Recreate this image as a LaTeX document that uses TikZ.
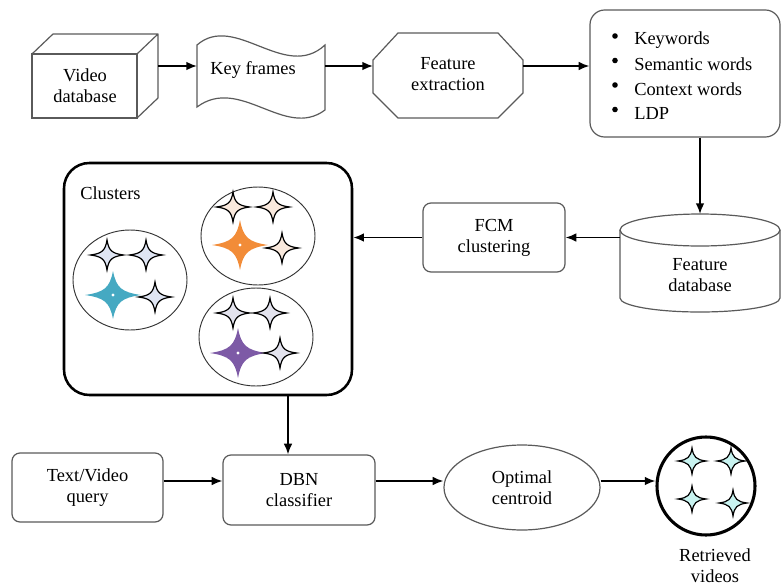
\documentclass[tikz,border=0pt]{standalone}
\usepackage{fontspec}
\setmainfont{Liberation Serif}
\usetikzlibrary{arrows.meta,shapes.geometric}
\definecolor{lnc}{HTML}{5A5A5A}
\definecolor{cyanbig}{HTML}{45A9C2}
\definecolor{orangebig}{HTML}{F28C38}
\definecolor{purplebig}{HTML}{7D5AA6}
\definecolor{bluesmall}{HTML}{DFE5F3}
\definecolor{peachsmall}{HTML}{F9E9DD}
\definecolor{graysmall}{HTML}{E3E3EE}
\definecolor{cyansmall}{HTML}{C8F3F0}
% x y rx ry style
\newcommand\sparkle[5]{%
  \begin{scope}[shift={(#1,#2)}]
  \path[#5] (#3,0) .. controls (0.3*#3,0.1*#4) and (0.1*#3,0.3*#4) .. (0,#4)
    .. controls (-0.1*#3,0.3*#4) and (-0.3*#3,0.1*#4) .. (-#3,0)
    .. controls (-0.3*#3,-0.1*#4) and (-0.1*#3,-0.3*#4) .. (0,-#4)
    .. controls (0.1*#3,-0.3*#4) and (0.3*#3,-0.1*#4) .. cycle;
  \end{scope}}
\newcommand\bigsparkle[5]{%
  \begin{scope}[shift={(#1,#2)}]
  \path[#5] (#3,0) .. controls (0.3*#3,0.12*#4) and (0.12*#3,0.3*#4) .. (0,#4)
    .. controls (-0.12*#3,0.3*#4) and (-0.3*#3,0.12*#4) .. (-#3,0)
    .. controls (-0.3*#3,-0.12*#4) and (-0.12*#3,-0.3*#4) .. (0,-#4)
    .. controls (0.12*#3,-0.3*#4) and (0.3*#3,-0.12*#4) .. cycle;
  \fill[white] (0,0) circle (1.6);
  \end{scope}}
\begin{document}
\begin{tikzpicture}[x=0.75pt,y=-0.75pt,
  font=\fontsize{13.8pt}{15.8pt}\selectfont,
  ln/.style={draw=lnc, line width=0.9pt},
  box/.style={ln, rounded corners=6pt, fill=white, align=center, inner sep=0pt},
  ghost/.style={draw=none, inner sep=0pt, outer sep=0pt},
  txt/.style={align=center, inner sep=0pt},
  arr/.style={draw=black, line width=1.3pt, -{Latex[length=8pt,width=6.5pt]}},
  smallstar/.style={draw=black, line width=0.9pt, fill=#1},
  bigstar/.style={fill=#1}]
\useasboundingbox (0,0) rectangle (782,586);

% ---------- row 1 ----------
% Video database (cube)
\node[ghost, minimum width=94.5pt, minimum height=63pt] (vd) at (95,76) {};
\draw[ln, fill=white] (32,54) rectangle (137,118);
\draw[ln, line join=round] (32,54) -- (53,34) -- (158,34) -- (137,54) (158,34) -- (158,98) -- (137,118);
\node[txt] (vdt) at (85,86) {Video\\database};

% Key frames (wavy document)
\node[ghost, minimum width=96pt, minimum height=63.75pt] (kfs) at (261,76) {};
\draw[ln] (197,45) .. controls (235,12) and (285,82) .. (325,45) -- (325,110)
  .. controls (285,140) and (240,75) .. (197,107) -- cycle;
\node[txt] (kft) at (253,70) {Key frames};

% Feature extraction (octagon)
\node[ghost, minimum width=112.5pt, minimum height=63.75pt] (fe) at (448,75.5) {};
\draw[ln] (398,33) -- (498,33) -- (523,60) -- (523,93) -- (498,118) -- (398,118) -- (373,93) -- (373,60) -- cycle;
\node[txt] (fet) at (448,74) {Feature\\extraction};

% Feature list
\node[box, rounded corners=11pt, minimum width=142.5pt, minimum height=95.25pt] (feats) at (685,73.5) {};
\foreach \yy/\tt [count=\i] in {40/Keywords, 64.5/Semantic words, 89/Context words, 113.5/LDP}{
  \fill (615,\yy-4) circle (2.8);
  \node[anchor=west, inner sep=0pt] (item\i) at (634,\yy) {\tt};
}

\coordinate (r1) at (0,66);
\draw[arr] (vd.east |- r1) -- (kfs.west |- r1);
\draw[arr] (kfs.east |- r1) -- (fe.west |- r1);
\draw[arr] (fe.east |- r1) -- (feats.west |- r1);

% ---------- row 2 ----------
% Feature database (cylinder)
\node[ghost, minimum width=120pt, minimum height=73.5pt] (fdb) at (700,263) {};
\draw[ln, fill=white] (620,230) -- (620,298) arc[start angle=180, end angle=0, x radius=80, y radius=14] -- (780,230);
\draw[ln, fill=white] (700,230) ellipse [x radius=80, y radius=16];
\node[txt] (fdbt) at (700,275) {Feature\\database};

\draw[arr] (feats.south -| fdb.north) -- (fdb.north);

% FCM clustering
\node[box, minimum width=106.5pt, minimum height=51.75pt] (fcm) at (494,237.5) {FCM\\clustering};
\draw[arr] (fcm.east -| fdb.west) -- (fcm.east);

% Clusters box
\node[draw=black, line width=1.9pt, rounded corners=19pt, minimum width=216pt, minimum height=174pt, inner sep=0pt] (cl) at (208,279) {};
\node[anchor=west, inner sep=0pt] (clt) at (80,193) {Clusters};
\draw[arr] (fcm.west) -- (fcm.west -| cl.east);

% cluster ellipses
\node[ellipse, draw=black!80, line width=0.7pt, minimum width=85.5pt, minimum height=75pt, inner sep=0pt] (e1) at (130,280) {};
\node[ellipse, draw=black!80, line width=0.7pt, minimum width=85.5pt, minimum height=73.5pt, inner sep=0pt] (e2) at (258,236) {};
\node[ellipse, draw=black!80, line width=0.7pt, minimum width=85.5pt, minimum height=73.5pt, inner sep=0pt] (e3) at (256,337) {};

% left cluster
\sparkle{107}{255}{16.5}{15}{smallstar=bluesmall}
\sparkle{146}{255}{16.5}{15}{smallstar=bluesmall}
\bigsparkle{113}{295}{28}{24}{bigstar=cyanbig}
\sparkle{155}{297}{16.5}{15}{smallstar=bluesmall}
% top cluster
\sparkle{233}{207}{16.5}{15}{smallstar=peachsmall}
\sparkle{273}{207}{16.5}{15}{smallstar=peachsmall}
\bigsparkle{240}{245}{28}{25}{bigstar=orangebig}
\sparkle{282}{248}{16.5}{15}{smallstar=peachsmall}
% bottom cluster
\sparkle{233}{313}{16.5}{15}{smallstar=graysmall}
\sparkle{270}{313}{16.5}{15}{smallstar=graysmall}
\bigsparkle{238}{353}{28}{25}{bigstar=purplebig}
\sparkle{280}{353}{16.5}{15}{smallstar=graysmall}

% ---------- row 3 ----------
\node[box, minimum width=113.25pt, minimum height=51.75pt] (query) at (87.5,487.5) {Text/Video\\query};
\node[box, minimum width=114pt, minimum height=52.5pt] (dbn) at (299,490) {DBN\\classifier};
\node[ellipse, ln, fill=white, align=center, inner sep=0pt, minimum width=117pt, minimum height=63.75pt] (opt) at (522,487.5) {Optimal\\centroid};
\node[circle, draw=black, line width=2.3pt, minimum size=73.5pt, inner sep=0pt] (ret) at (706,486) {};
\node[txt] (rett) at (715,566) {Retrieved\\videos};

\sparkle{692}{461}{14}{13}{smallstar=cyansmall}
\sparkle{731}{461}{14}{13}{smallstar=cyansmall}
\sparkle{692}{499}{14}{13}{smallstar=cyansmall}
\sparkle{733}{503}{14}{13}{smallstar=cyansmall}

\coordinate (r3) at (0,481);
\draw[arr] (query.east |- r3) -- (dbn.west |- r3);
\draw[arr] (dbn.east |- r3) -- (opt.west |- r3);
\draw[arr] (opt.east |- r3) -- (ret.west |- r3);
\draw[arr] ([xshift=-8.25pt]dbn.north |- cl.south) -- ([xshift=-8.25pt]dbn.north);
\end{tikzpicture}
\end{document}
